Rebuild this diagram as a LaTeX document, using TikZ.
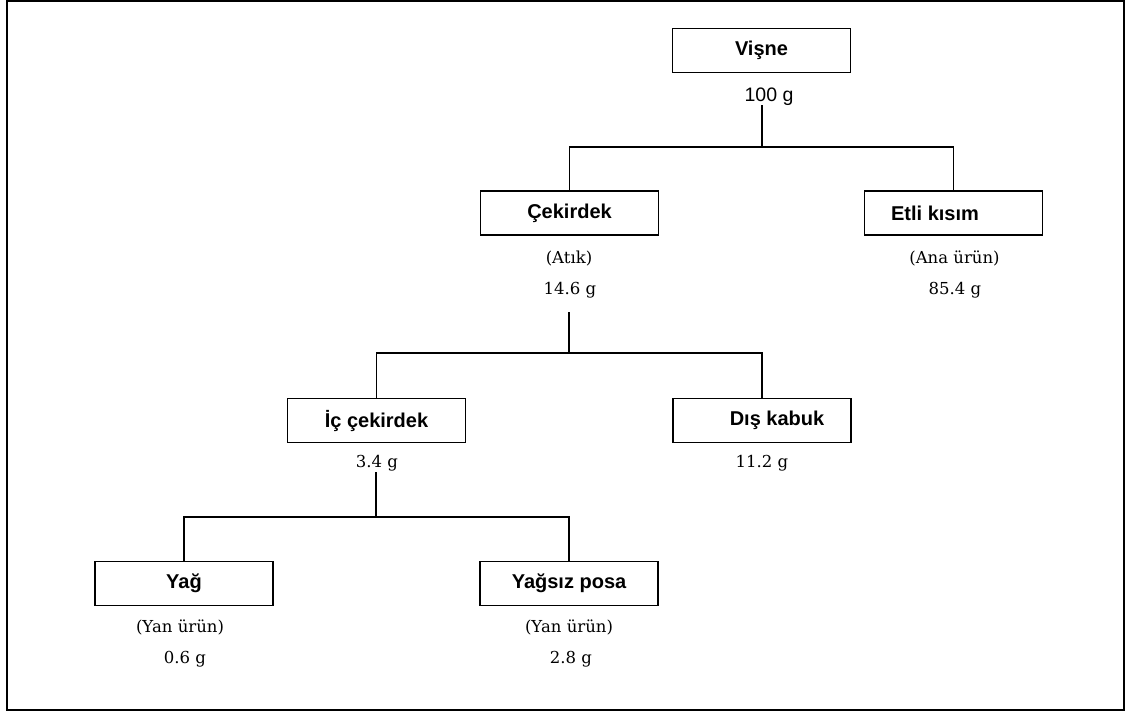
\documentclass[tikz,border=0pt]{standalone}
\usepackage{fontspec}
\setmainfont{DejaVu Serif}
\newfontfamily\arialf{Liberation Sans}
\begin{document}
\begin{tikzpicture}[x=1pt,y=-1pt,
  boxnode/.style={draw,line width=1.5pt,rectangle,minimum width=178pt,minimum height=44pt,inner sep=0pt,font=\arialf\bfseries\fontsize{20}{23}\selectfont},
  serifnote/.style={anchor=base,inner sep=0pt,font=\fontsize{16.5}{19}\selectfont},
  sansnote/.style={anchor=base,inner sep=0pt,font=\arialf\fontsize{19.5}{22}\selectfont},
  link/.style={line width=1.3pt}]
\useasboundingbox (0,0) rectangle (1129,713);
\draw[line width=2pt] (7,1) rectangle (1124,710);
% boxes
\node[boxnode] (visne) at (761.5,50.5) {Vişne};
\node[boxnode] (cek) at (569.5,213) {Çekirdek};
\node[boxnode] (etli) at (953.5,213) {\hspace*{-37pt}Etli kısım};
\node[boxnode] (ic) at (376.5,420.5) {İç çekirdek};
\node[boxnode] (dis) at (762,420.5) {\hspace*{30pt}Dış kabuk};
\node[boxnode] (yag) at (184,583.5) {Yağ};
\node[boxnode] (posa) at (569,583.5) {Yağsız posa};
% texts
\node[sansnote] (t100) at (769,101) {100 g};
\node[serifnote] (atik) at (569,263) {(Atık)};
\node[serifnote] (t146) at (570,294) {14.6 g};
\node[serifnote] (ana) at (954.5,263) {(Ana ürün)};
\node[serifnote] (t854) at (955,294) {85.4 g};
\node[serifnote] (t34) at (377,467) {3.4 g};
\node[serifnote] (t112) at (762,467) {11.2 g};
\node[serifnote] (yan1) at (180,632) {(Yan ürün)};
\node[serifnote] (t06) at (185,663) {0.6 g};
\node[serifnote] (yan2) at (569,632) {(Yan ürün)};
\node[serifnote] (t28) at (571,663) {2.8 g};
% connectors
\coordinate (a1) at (762,105);
\coordinate (j1) at (762,147);
\coordinate (a2) at (569,312);
\coordinate (j2) at (569,353);
\coordinate (a3) at (376,472);
\coordinate (j3) at (376,517);
\draw[link] (a1) -- (j1) -| (cek.north);
\draw[link] (j1) -| (etli.north);
\draw[link] (a2) -- (j2) -| (ic.north);
\draw[link] (j2) -| (dis.north);
\draw[link] (a3) -- (j3) -| (yag.north);
\draw[link] (j3) -| (posa.north);
\end{tikzpicture}
\end{document}
